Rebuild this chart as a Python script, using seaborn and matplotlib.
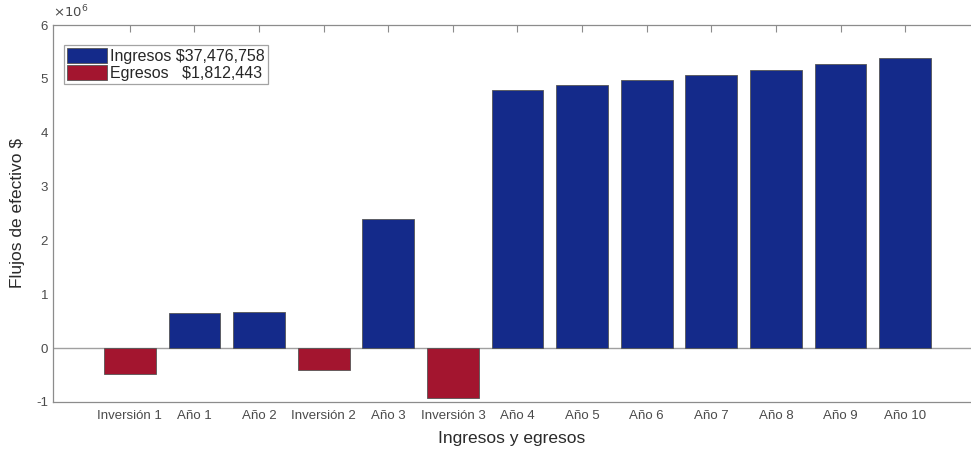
import matplotlib
matplotlib.use("Agg")
import matplotlib.pyplot as plt
import matplotlib.patches as mpatches
import pandas as pd
import seaborn as sns

# Cash flows (dollars)
labels = ["Inversión 1", "Año 1", "Año 2", "Inversión 2", "Año 3", "Inversión 3",
          "Año 4", "Año 5", "Año 6", "Año 7", "Año 8", "Año 9", "Año 10"]
flows = [-480000, 650000, 670000, -410000, 2400000, -930000,
         4790000, 4880000, 4980000, 5080000, 5170000, 5280000, 5390000]
kinds = ["Egresos", "Ingresos", "Ingresos", "Egresos", "Ingresos", "Egresos",
         "Ingresos", "Ingresos", "Ingresos", "Ingresos", "Ingresos", "Ingresos", "Ingresos"]
legend_text = {"Ingresos": "Ingresos \\$37,476,758", "Egresos": "Egresos   \\$1,812,443"}
colors = {"Ingresos": "#142a8a", "Egresos": "#a3152f"}

df = pd.DataFrame({"label": labels, "flow": flows, "kind": kinds})

sns.set_theme(style="white")
plt.rcParams["font.family"] = ["Liberation Sans", "DejaVu Sans"]
axis_grey = "#8c8c8c"
text_grey = "#4a4a4a"

fig = plt.figure(figsize=(9.71, 4.49), dpi=100)
ax = fig.add_axes([0.0546, 0.1047, 0.9454, 0.8396])

sns.barplot(data=df, x="label", y="flow", hue="kind", order=labels,
            hue_order=["Ingresos", "Egresos"], palette=colors, dodge=False,
            width=0.8, saturation=1, edgecolor="#555555", linewidth=0.6,
            legend=False, ax=ax)

ax.axhline(0, color="#a0a0a0", linewidth=1.0, zorder=0)

ax.set_xlim(-1.19, 13.02)
ax.set_ylim(-1e6, 6e6)
ax.set_yticks([i * 1e6 for i in range(-1, 7)])
ax.yaxis.set_major_formatter(lambda v, _: f"{v / 1e6:.0f}")

ax.tick_params(axis="both", direction="in", length=5, width=0.8, color=axis_grey,
               labelcolor=text_grey, labelsize=9.5, top=True, right=False)
ax.tick_params(axis="x", pad=6)
for side in ["left", "top", "bottom"]:
    ax.spines[side].set_color(axis_grey)
    ax.spines[side].set_linewidth(0.9)
ax.spines["right"].set_visible(False)

ax.set_xlabel("Ingresos y egresos", fontsize=12.5, color="#2a2a2a", labelpad=6)
ax.set_ylabel("Flujos de efectivo \\$", fontsize=12.5, color="#2a2a2a", labelpad=8)
ax.text(0.0, 1.012, r"$\times10^{6}$", transform=ax.transAxes, fontsize=9.5,
        color=text_grey, ha="left", va="bottom")

handles = [mpatches.Patch(facecolor=colors[k], edgecolor="#555555", linewidth=0.6,
                          label=legend_text[k]) for k in ["Ingresos", "Egresos"]]
leg = ax.legend(handles=handles, loc="upper left", bbox_to_anchor=(0.012, 0.947),
                fontsize=11.5, frameon=True, fancybox=False, borderpad=0.2,
                handlelength=2.5, handleheight=1.05, handletextpad=0.2,
                labelspacing=0.08, borderaxespad=0)
leg.get_frame().set_edgecolor("#8c8c8c")
leg.get_frame().set_linewidth(0.9)

fig.savefig("out.png", dpi=100)
